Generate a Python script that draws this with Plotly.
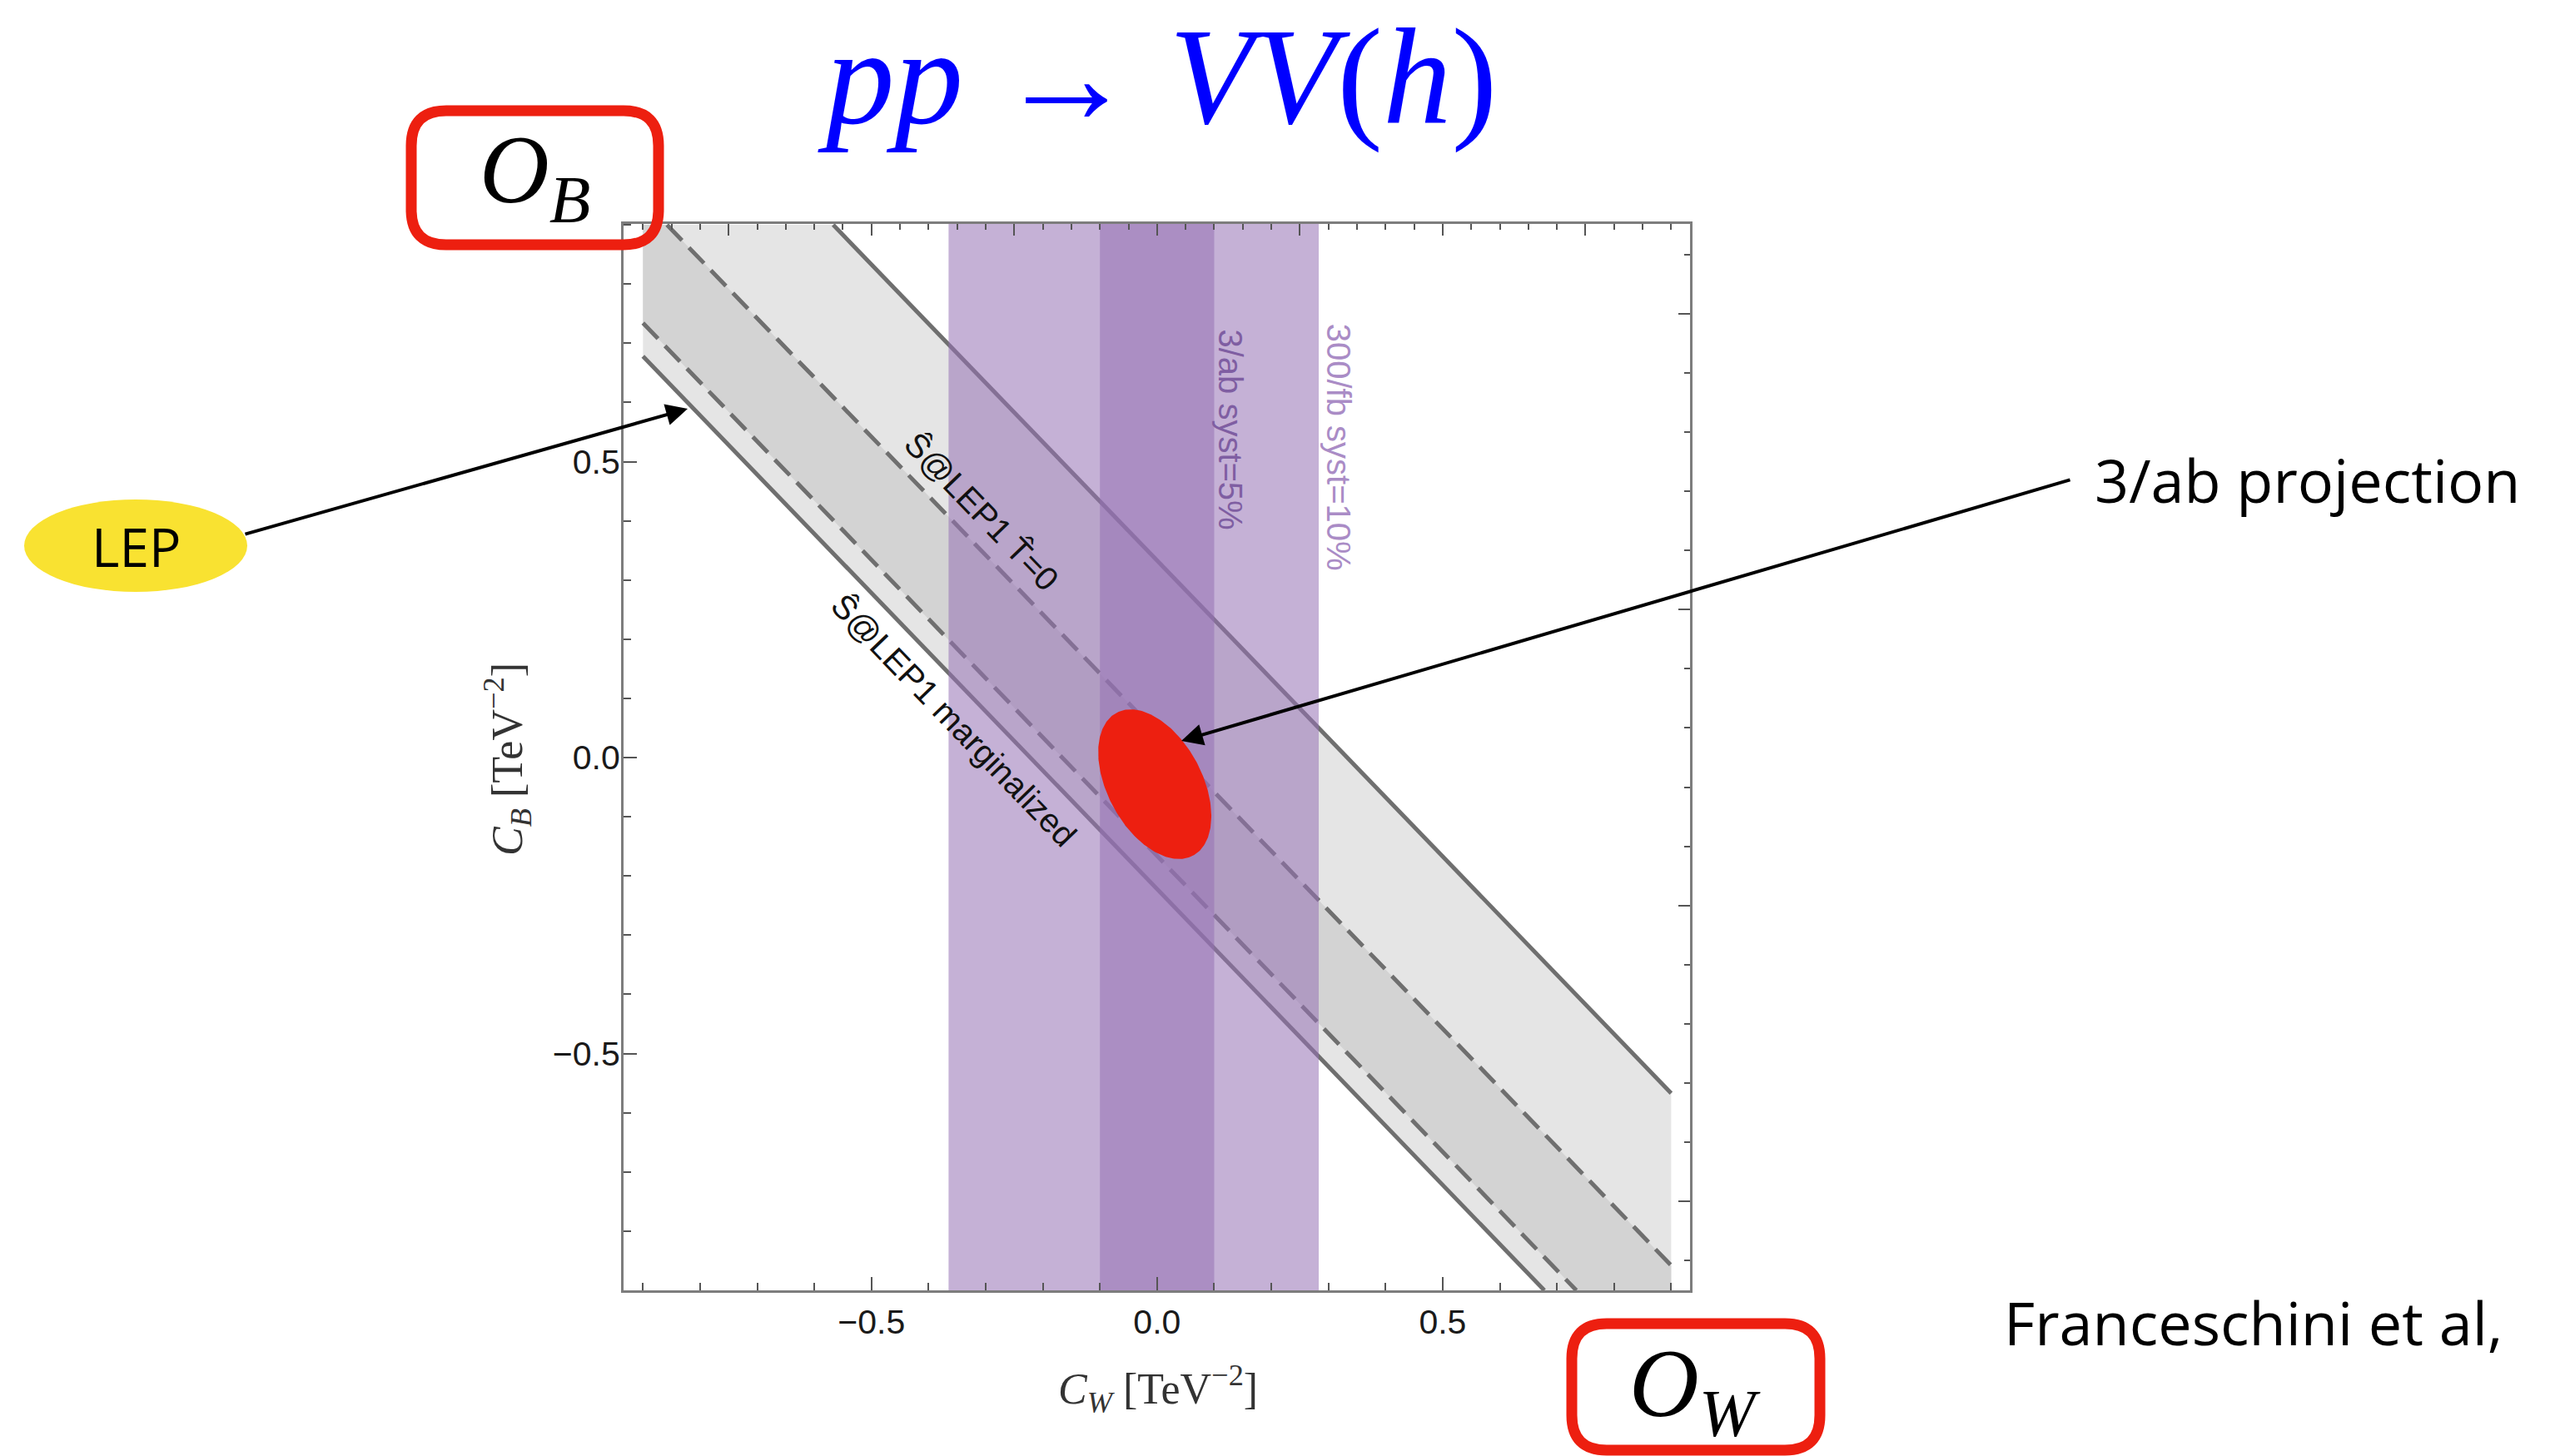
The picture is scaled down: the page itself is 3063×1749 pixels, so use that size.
import numpy as np
import plotly.graph_objects as go

W, H = 3063, 1749

# ---- axis ranges (C_W horizontal, C_B vertical, TeV^-2) ----
x_range = [-0.934, 0.933]
y_range = [-0.900, 0.9015]

# ---- LEP1 S-parameter constraints: bands in C_W + C_B ----
lep_marginalized = [-0.222, 0.333]   # S@LEP1 marginalized (solid boundaries)
lep_t_zero = [-0.166, 0.042]         # S@LEP1 T=0 (dashed boundaries)
lep_extent = 0.9                     # region over which the LEP bands are drawn

# ---- pp -> VV(h) projections: bands in C_W ----
band_300fb = [-0.365, 0.283]         # 300/fb, syst = 10%
band_3ab = [-0.100, 0.100]           # 3/ab, syst = 5%

# ---- 3/ab projected ellipse ----
ellipse_center = [-0.004, -0.045]
ellipse_semi_axes = [0.138, 0.082]
ellipse_tilt_deg = -60.0

# ---- tick spacing ----
x_major, x_minor = 0.5, 0.1
y_major, y_minor = 0.5, 0.1

GRAY_LINE = "#6f6f6f"
PURPLE = "rgba(150,113,180,0.55)"
RED = "#ED1F10"
TICK_FONT = "Liberation Sans Narrow, Liberation Sans, Arial"


def px(x):
    return x / W


def py(y):
    return 1 - y / H


def band_polygon(b_lo, b_hi, lim):
    """Region b_lo <= x + y <= b_hi inside the square [-lim, lim]^2."""
    knots = sorted({-lim, lim, b_lo - lim, b_lo + lim, b_hi - lim, b_hi + lim})
    xs = [k for k in knots if -lim <= k <= lim]
    lo = [float(np.clip(b_lo - x, -lim, lim)) for x in xs]
    hi = [float(np.clip(b_hi - x, -lim, lim)) for x in xs]
    return xs + xs[::-1] + [xs[0]], lo + hi[::-1] + [lo[0]]


def diag_segment(b, lim):
    x0 = max(-lim, b - lim)
    x1 = min(lim, b + lim)
    return [x0, x1], [b - x0, b - x1]


def rounded_rect(x0, y0, x1, y1, r):
    pts = [
        f"M {px(x0 + r)},{py(y0)}",
        f"L {px(x1 - r)},{py(y0)}",
        f"Q {px(x1)},{py(y0)} {px(x1)},{py(y0 + r)}",
        f"L {px(x1)},{py(y1 - r)}",
        f"Q {px(x1)},{py(y1)} {px(x1 - r)},{py(y1)}",
        f"L {px(x0 + r)},{py(y1)}",
        f"Q {px(x0)},{py(y1)} {px(x0)},{py(y1 - r)}",
        f"L {px(x0)},{py(y0 + r)}",
        f"Q {px(x0)},{py(y0)} {px(x0 + r)},{py(y0)}",
        "Z",
    ]
    return " ".join(pts)


fig = go.Figure()

# LEP bands
bx, by = band_polygon(lep_marginalized[0], lep_marginalized[1], lep_extent)
fig.add_trace(go.Scatter(x=bx, y=by, fill="toself", fillcolor="#E5E5E5",
                         mode="lines", line=dict(width=0), hoverinfo="skip"))
bx, by = band_polygon(lep_t_zero[0], lep_t_zero[1], lep_extent)
fig.add_trace(go.Scatter(x=bx, y=by, fill="toself", fillcolor="#D3D3D3",
                         mode="lines", line=dict(width=0), hoverinfo="skip"))

for b in lep_marginalized:
    sx, sy = diag_segment(b, lep_extent)
    fig.add_trace(go.Scatter(x=sx, y=sy, mode="lines",
                             line=dict(color=GRAY_LINE, width=5), hoverinfo="skip"))
for b in lep_t_zero:
    sx, sy = diag_segment(b, lep_extent)
    fig.add_trace(go.Scatter(x=sx, y=sy, mode="lines",
                             line=dict(color=GRAY_LINE, width=5, dash="26px,12px"),
                             hoverinfo="skip"))

# projection bands
for lo, hi in (band_300fb, band_3ab):
    fig.add_trace(go.Scatter(x=[lo, hi, hi, lo, lo], y=[-1.2, -1.2, 1.2, 1.2, -1.2],
                             fill="toself", fillcolor=PURPLE, mode="lines",
                             line=dict(width=0), hoverinfo="skip"))

# projected ellipse
t = np.linspace(0, 2 * np.pi, 241)
th = np.deg2rad(ellipse_tilt_deg)
a, b = ellipse_semi_axes
ex = ellipse_center[0] + a * np.cos(t) * np.cos(th) - b * np.sin(t) * np.sin(th)
ey = ellipse_center[1] + a * np.cos(t) * np.sin(th) + b * np.sin(t) * np.cos(th)
fig.add_trace(go.Scatter(x=ex, y=ey, fill="toself", fillcolor=RED, mode="lines",
                         line=dict(width=0, color=RED), hoverinfo="skip"))

# carrier for the mirrored top/right frame axes
fig.add_trace(go.Scatter(x=[], y=[], xaxis="x2", yaxis="y2", showlegend=False))

tick_common = dict(ticks="inside", tickwidth=2, tickcolor="#555555",
                   showgrid=False, zeroline=False, showline=True,
                   linecolor="#7d7d7d", linewidth=3)

fig.update_layout(
    width=W, height=H, autosize=False,
    margin=dict(l=0, r=0, t=0, b=0),
    paper_bgcolor="white", plot_bgcolor="white",
    showlegend=False,
    font=dict(family="Liberation Sans", color="#222222"),
    xaxis=dict(domain=[px(749), px(2030)], range=x_range, anchor="y",
               dtick=x_major, tick0=0, ticklen=16, tickformat=".1f",
               tickfont=dict(family=TICK_FONT, size=41, color="#1a1a1a"),
               ticklabelstandoff=0,
               minor=dict(ticks="inside", dtick=x_minor, tick0=0, ticklen=9,
                          tickwidth=2, tickcolor="#555555", showgrid=False),
               **tick_common),
    yaxis=dict(domain=[py(1550), py(269)], range=y_range, anchor="x",
               dtick=y_major, tick0=0, ticklen=16, tickformat=".1f",
               tickfont=dict(family=TICK_FONT, size=41, color="#1a1a1a"),
               ticklabelstandoff=-7,
               minor=dict(ticks="inside", dtick=y_minor, tick0=0, ticklen=9,
                          tickwidth=2, tickcolor="#555555", showgrid=False),
               **tick_common),
    xaxis2=dict(overlaying="x", side="top", anchor="y", range=x_range,
                dtick=0.25, tick0=0, ticklen=14, showticklabels=False,
                minor=dict(ticks="inside", dtick=0.05, tick0=0, ticklen=7,
                           tickwidth=2, tickcolor="#555555", showgrid=False),
                **tick_common),
    yaxis2=dict(overlaying="y", side="right", anchor="x", range=y_range,
                dtick=0.5, tick0=0.25, ticklen=14, showticklabels=False,
                minor=dict(ticks="inside", dtick=0.1, tick0=0.05, ticklen=7,
                           tickwidth=2, tickcolor="#555555", showgrid=False),
                **tick_common),
)


def label(x, y, text, size, family, color, data=False, angle=0, xanchor="center"):
    return dict(x=x, y=y, xref="x" if data else "paper", yref="y" if data else "paper",
                showarrow=False, text=text, textangle=angle,
                xanchor=xanchor, yanchor="middle",
                font=dict(family=family, size=size, color=color))


ann = [
    # in-plot labels
    label(-0.307, 0.415, "Ŝ@LEP1 T\u0302=0", 40, "Liberation Sans", "#111111", True, 46),
    label(-0.356, 0.063, "Ŝ@LEP1 marginalized", 40, "Liberation Sans", "#111111", True, 46),
    label(0.128, 0.554, "3/ab syst=5%", 40, "Liberation Sans", "#7F5EA2", True, 90),
    label(0.318, 0.525, "300/fb syst=10%", 40, "Liberation Sans", "#AA8CC6", True, 90),
    # axis titles
    label(px(1391), py(1668), "<i>C</i><sub><i>W</i></sub> [TeV<sup>−2</sup>]",
          52, "Liberation Serif", "#333333"),
    label(px(609), py(912), "<i>C</i><sub><i>B</i></sub> [TeV<sup>−2</sup>]",
          52, "Liberation Serif", "#333333", angle=-90),
    # title
    label(px(1390), py(92), "<i>pp</i> → <i>VV</i>(<i>h</i>)", 165,
          "Liberation Serif", "#0000FF"),
    # operator tags
    label(px(642), py(212), "<i>O</i><sub><i>B</i></sub>", 116, "Liberation Serif", "black"),
    label(px(2036), py(1670), "<i>O</i><sub><i>W</i></sub>", 116, "Liberation Serif", "black"),
    # callout texts
    label(px(163), py(656), "LEP", 64, "Open Sans", "black"),
    label(px(2514), py(576), "3/ab projection", 72, "Open Sans", "black", xanchor="left"),
    label(px(2405), py(1588), "Franceschini et al,", 72, "Open Sans", "black", xanchor="left"),
    # callout arrows
    dict(x=px(826), y=py(491), xref="paper", yref="paper", text="",
         showarrow=True, axref="pixel", ayref="pixel", ax=293 - 826, ay=642 - 491,
         arrowhead=2, arrowsize=1.3, arrowwidth=4, arrowcolor="black",
         standoff=0, startstandoff=0),
    dict(x=px(1419), y=py(890), xref="paper", yref="paper", text="",
         showarrow=True, axref="pixel", ayref="pixel", ax=2488 - 1419, ay=576 - 890,
         arrowhead=2, arrowsize=1.3, arrowwidth=4, arrowcolor="black",
         standoff=0, startstandoff=0),
]
fig.update_layout(annotations=ann)

shapes = [
    dict(type="circle", xref="paper", yref="paper",
         x0=px(29), x1=px(297), y0=py(711), y1=py(600),
         fillcolor="#F9E231", line=dict(width=0), layer="above"),
    dict(type="path", xref="paper", yref="paper",
         path=rounded_rect(494, 133, 791, 294, 42),
         line=dict(color=RED, width=13), fillcolor="rgba(0,0,0,0)", layer="above"),
    dict(type="path", xref="paper", yref="paper",
         path=rounded_rect(1888, 1590, 2186, 1742, 42),
         line=dict(color=RED, width=13), fillcolor="rgba(0,0,0,0)", layer="above"),
]
fig.update_layout(shapes=shapes)

fig.write_html("out.html")
